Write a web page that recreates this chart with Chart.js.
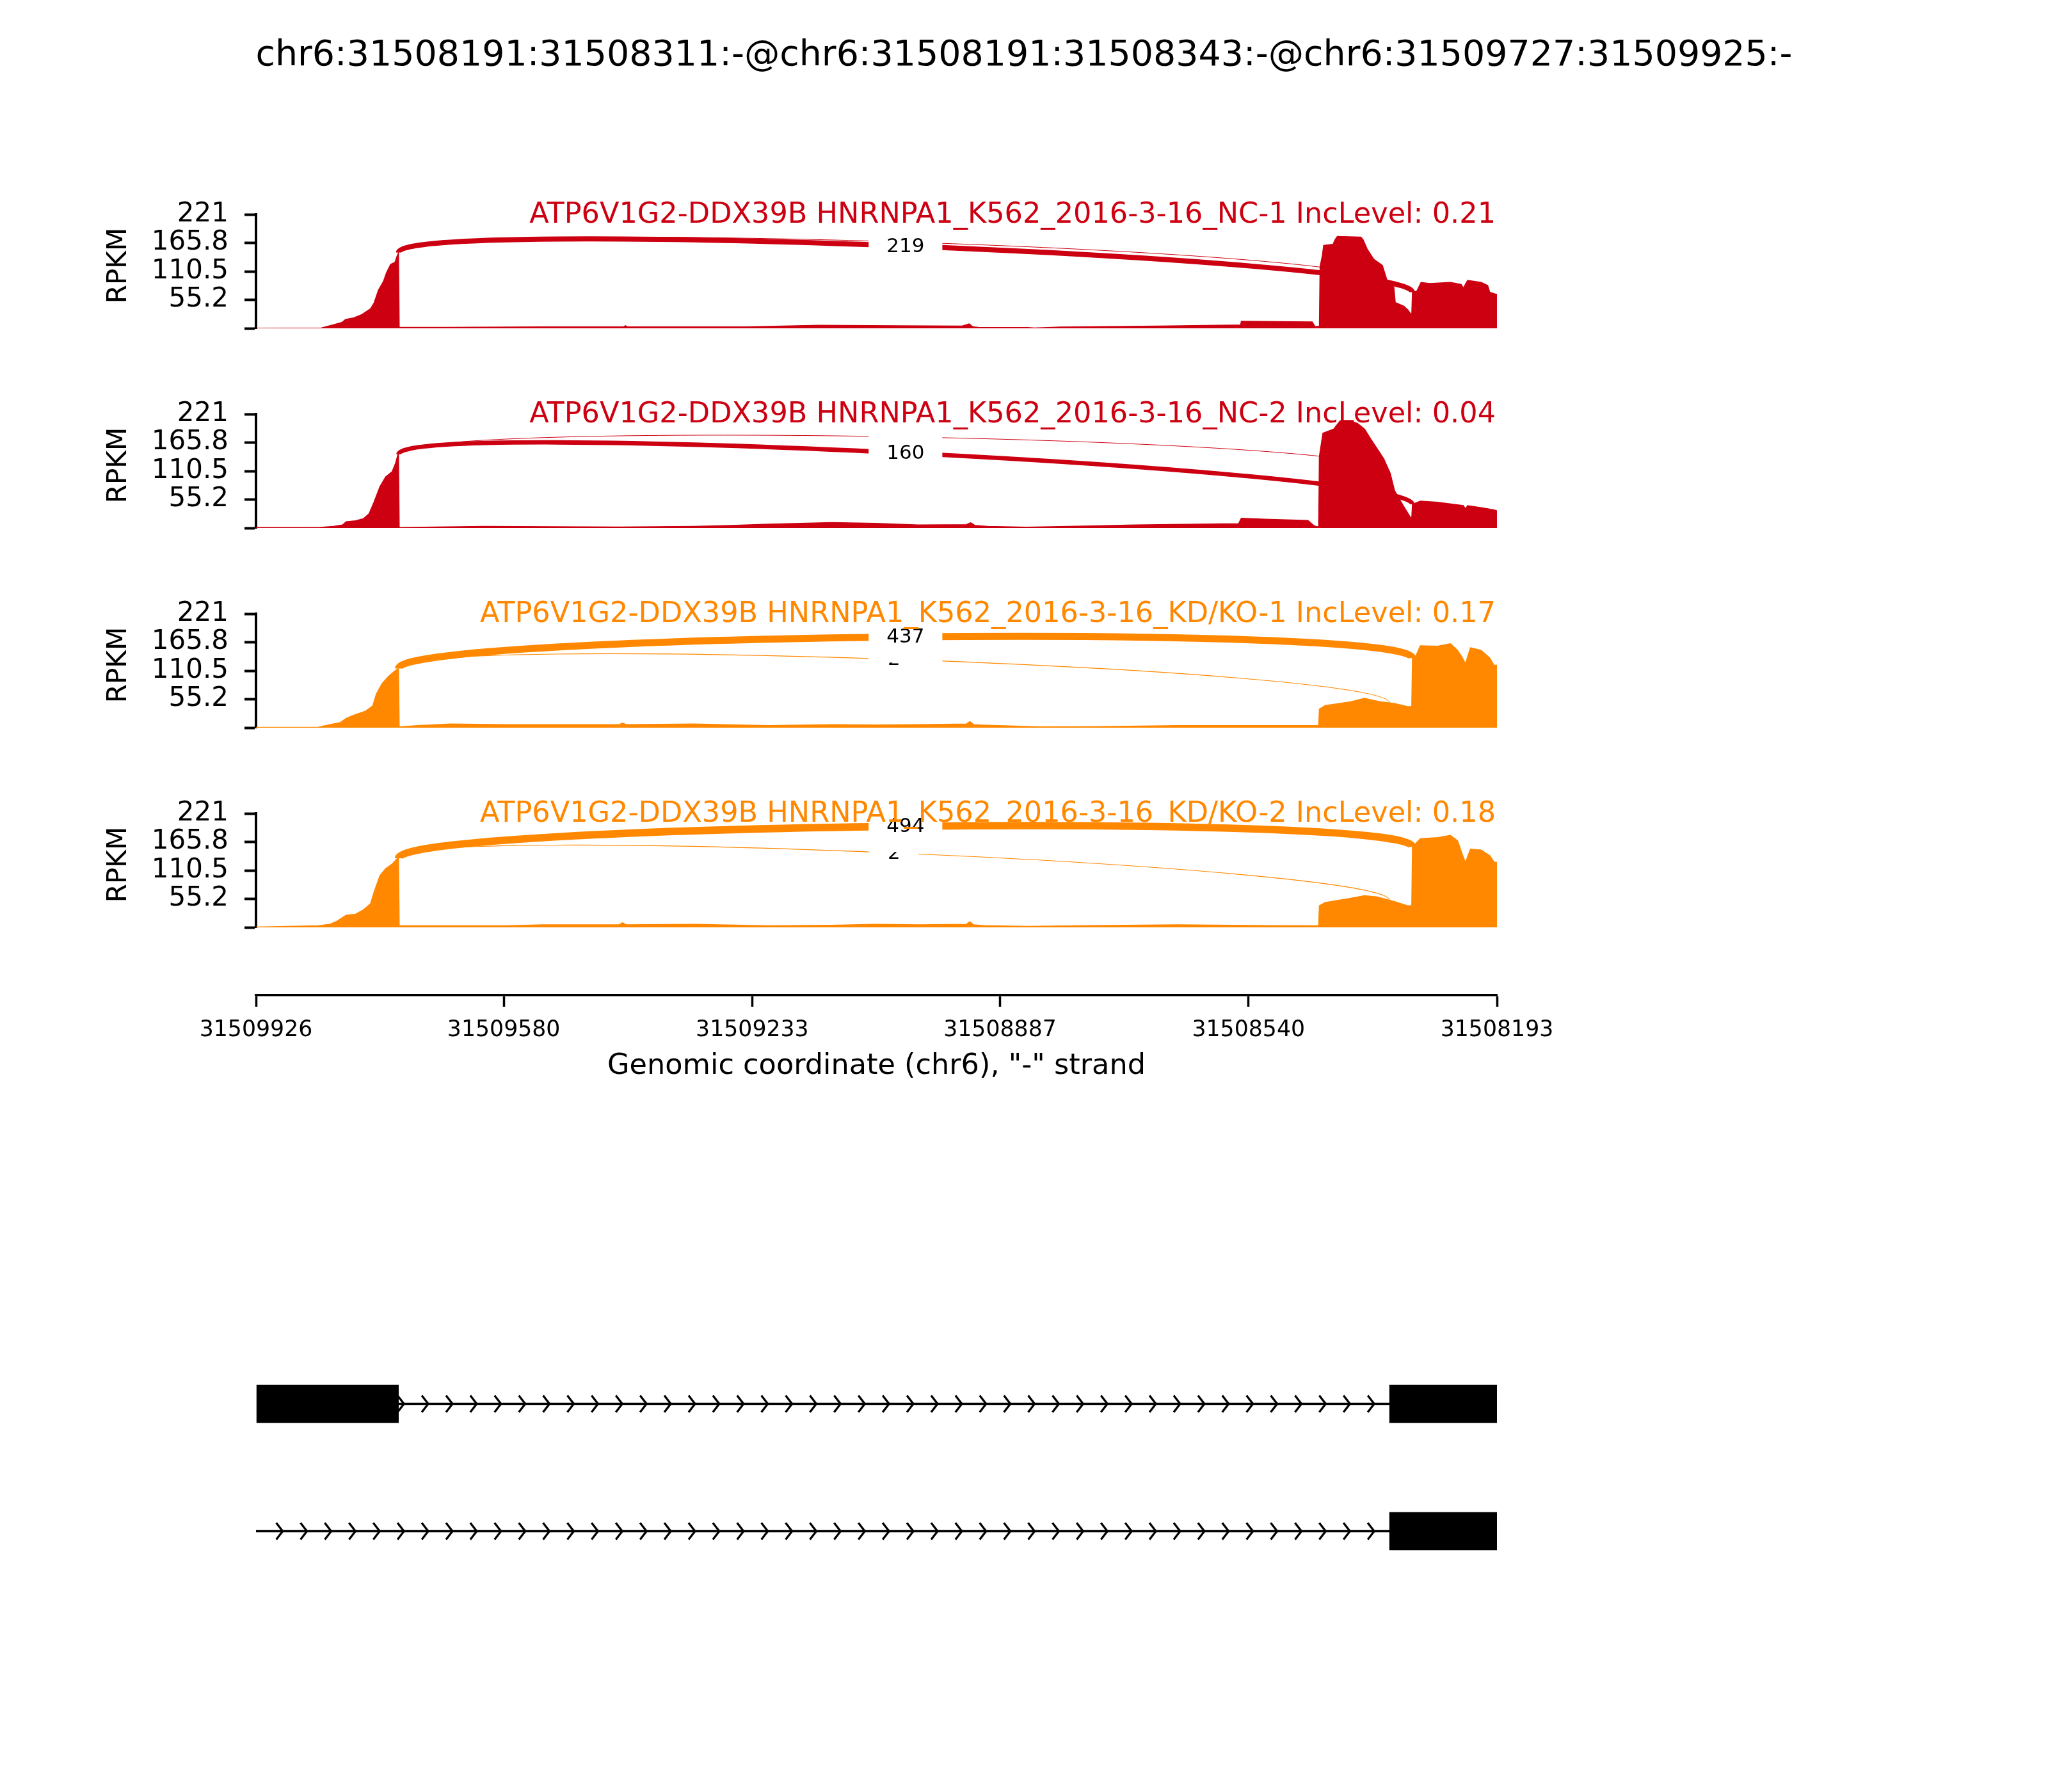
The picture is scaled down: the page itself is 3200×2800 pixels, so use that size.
<!DOCTYPE html>
<html lang="en">
<head>
<meta charset="UTF-8">
<title>Sashimi plot chr6</title>
<script src="https://cdn.jsdelivr.net/npm/chart.js"></script>
<style>
    body{margin:0;background:#fff;}
    #page{position:relative;width:3200px;height:2800px;background:#fff;font-family:"DejaVu Sans",sans-serif;}
    #page canvas{position:absolute;left:0;}
    .main-title{position:absolute;left:0;top:50px;width:3200px;text-align:center;
        font-size:55.4px;line-height:66px;color:#000;}
</style>
</head>
<body>
<div id="page">
    <div class="main-title">chr6:31508191:31508311:-@chr6:31508191:31508343:-@chr6:31509727:31509925:-</div>
    <canvas id="p0" width="3200" height="330" style="top:235px"></canvas>
    <canvas id="p1" width="3200" height="330" style="top:547px"></canvas>
    <canvas id="p2" width="3200" height="330" style="top:859px"></canvas>
    <canvas id="p3" width="3200" height="330" style="top:1171px"></canvas>
    <canvas id="axis" width="3200" height="300" style="top:1455px"></canvas>
    <canvas id="genes" width="3200" height="398" style="top:2094px"></canvas>
</div>

<script>
/* ---- data ---- */
const xMin = 31508193, xMax = 31509926;
const xTickValues = [31509926, 31509580, 31509233, 31508887, 31508540, 31508193];
const xTickLabels = ['31509926', '31509580', '31509233', '31508887', '31508540', '31508193'];
const yTickValues = [0, 55.25, 110.5, 165.75, 221];
const yTickLabels = ['', '55.2', '110.5', '165.8', '221'];

const sampleNames = [
    'ATP6V1G2-DDX39B HNRNPA1_K562_2016-3-16_NC-1 IncLevel: 0.21',
    'ATP6V1G2-DDX39B HNRNPA1_K562_2016-3-16_NC-2 IncLevel: 0.04',
    'ATP6V1G2-DDX39B HNRNPA1_K562_2016-3-16_KD/KO-1 IncLevel: 0.17',
    'ATP6V1G2-DDX39B HNRNPA1_K562_2016-3-16_KD/KO-2 IncLevel: 0.18'
];
const sampleColors = ['#CC0011', '#CC0011', '#FF8800', '#FF8800'];

// coverage: [genomic position, RPKM], left to right on the plot
const covNC1 = [[31509926,0],[31509835,0.5],[31509818,7],[31509806,11.5],[31509801,17],[31509789,20.6],[31509778,26.8],
    [31509766,38],[31509761,49.6],[31509755,74],[31509748,91],[31509744,107],[31509738,124],[31509732,128],[31509729,140],
    [31509727,147],[31509726,2],[31509658,2],[31509527,2.7],[31509413,2.7],[31509410,5],[31509407,2.7],[31509242,2.7],
    [31509140,6],[31509032,5],[31508940,4.5],[31508930,8.7],[31508925,3],[31508916,1.6],[31508848,1.6],[31508839,0.5],
    [31508803,2.5],[31508666,4.5],[31508551,6.6],[31508550,13.6],[31508451,12.4],[31508447,3.3],[31508441,4],[31508440,120],
    [31508437,140],[31508435,161],[31508422,163],[31508419,172],[31508416,178],[31508383,177],[31508380,172],[31508374,153],
    [31508365,134],[31508353,122],[31508347,95],[31508341,83],[31508337,80],[31508335,50],[31508323,43],[31508317,35],
    [31508313,27],[31508312,27],[31508311,70],[31508305,72],[31508299,89],[31508287,87],[31508258,89],[31508243,85],
    [31508240,78],[31508234,93],[31508215,89],[31508206,83],[31508203,70],[31508194,66],[31508193,66]];
const covNC2 = [[31509926,1],[31509839,1],[31509818,3],[31509805,6],[31509800,12],[31509787,14],[31509776,18],[31509768,28],
    [31509761,51],[31509753,80],[31509745,99],[31509736,109],[31509731,126],[31509728,142],[31509727,143],[31509726,1],
    [31509608,3],[31509419,2],[31509315,3],[31509262,5],[31509210,7.5],[31509122,10.4],[31509061,9],[31509001,6],
    [31508934,6.5],[31508928,10],[31508922,5],[31508904,3],[31508850,1.5],[31508759,4],[31508699,6],[31508578,8],
    [31508554,8],[31508550,19],[31508517,17],[31508457,14.5],[31508448,4],[31508442,2],[31508441,139],[31508436,184],
    [31508421,192],[31508412,208],[31508397,207],[31508388,203],[31508378,192],[31508369,172],[31508357,147],[31508351,134],
    [31508342,106],[31508336,72.5],[31508324,43.5],[31508314,21],[31508312,20],[31508311,46],[31508300,52],[31508276,50],
    [31508240,43.5],[31508237,37],[31508234,43.5],[31508215,39.4],[31508197,35],[31508193,33]];
const covKD1 = [[31509926,0.5],[31509839,1],[31509823,5.8],[31509808,10],[31509800,18],[31509787,25.6],[31509773,32],
    [31509763,42],[31509758,65],[31509750,85.5],[31509742,98],[31509734,108],[31509728,114],[31509727,115],[31509726,1.5],
    [31509700,4],[31509655,7],[31509577,6],[31509419,6],[31509414,9],[31509409,6],[31509315,7],[31509210,4],[31509122,6],
    [31509061,5.3],[31509001,6],[31508934,7],[31508929,12],[31508924,6],[31508910,5],[31508832,1.5],[31508759,2],
    [31508639,4],[31508517,4],[31508442,4],[31508441,36],[31508433,43],[31508397,50.4],[31508378,57],[31508366,53],
    [31508354,50],[31508336,47],[31508318,41],[31508312,41],[31508311,135],[31508306,140],[31508300,159],[31508276,158],
    [31508258,163],[31508248,150],[31508241,135],[31508237,124],[31508230,155],[31508215,150],[31508203,135],
    [31508197,121],[31508193,121]];
const covKD2 = [[31509926,0.5],[31509839,3],[31509823,6],[31509813,12],[31509800,23.5],[31509787,25.6],[31509776,34],
    [31509766,46],[31509761,69],[31509753,100],[31509745,114],[31509736,122.7],[31509729,133],[31509727,134],[31509726,3],
    [31509577,3],[31509525,5],[31509419,5],[31509414,9],[31509409,5],[31509315,6],[31509210,3],[31509122,4],[31509061,6],
    [31509001,5],[31508934,6],[31508929,11],[31508924,5],[31508910,3.5],[31508850,2],[31508759,3.5],[31508639,5],
    [31508517,3.5],[31508442,3],[31508441,42],[31508433,48],[31508397,56.6],[31508378,61.6],[31508360,59],[31508336,50],
    [31508318,42],[31508312,42],[31508311,156],[31508300,172],[31508276,174],[31508258,178.5],[31508248,168],
    [31508241,140],[31508237,126],[31508230,151.6],[31508215,150],[31508203,139],[31508197,126.8],[31508193,126]];

// junctions: [donor side, acceptor side, read count]
const jxnNC1 = [[31509727, 31508311, 219], [31509727, 31508343, 1]];
const jxnNC2 = [[31509727, 31508311, 160], [31509727, 31508343, 1]];
const jxnKD1 = [[31509727, 31508311, 437], [31509727, 31508343, 2]];
const jxnKD2 = [[31509727, 31508311, 494], [31509727, 31508343, 2]];

// gene model
const iso1Exons = [[31509727, 31509925], [31508311, 31508343], [31508191, 31508311]];
const iso2Exons = [[31508311, 31508343], [31508191, 31508311]];
const iso1Introns = [[31509727, 31508343]];
const iso2Introns = [[31509926, 31508343]];

/* ---- helpers ---- */
const FONT = '"DejaVu Sans", sans-serif';
const ARC_H = 68;

function covAt(cov, pos){
    for(let i=0;i<cov.length-1;i++){
        const [p1,v1]=cov[i], [p2,v2]=cov[i+1];
        if(pos<=p1 && pos>=p2){
            if(p1===p2) return v1;
            return v1+(v2-v1)*(p1-pos)/(p1-p2);
        }
    }
    return 0;
}

function sashimiPlugin(id, cov, jxns, name, color){
    return {
        id: id,
        afterDatasetsDraw(chart){
            const ctx=chart.ctx, xs=chart.scales.x, ys=chart.scales.y;
            const arcs=[...jxns].sort((a,b)=>a[2]-b[2]).map(([s,e,n])=>{
                const x1=xs.getPixelForValue(s), x2=xs.getPixelForValue(e);
                const d1=covAt(cov,s), d2=covAt(cov,e);
                const y1=ys.getPixelForValue(d1), y2=ys.getPixelForValue(d2);
                const c1=ys.getPixelForValue(d1+ARC_H), c2=ys.getPixelForValue(d2+ARC_H);
                return {x1,x2,y1,y2,c1,c2,n};
            });
            ctx.save();
            ctx.strokeStyle=color;
            ctx.lineCap='butt';
            arcs.forEach(a=>{
                ctx.lineWidth=0.5*Math.sqrt(a.n)+0.5;
                ctx.beginPath();
                ctx.moveTo(a.x1,a.y1);
                ctx.bezierCurveTo(a.x1,a.c1,a.x2,a.c2,a.x2,a.y2);
                ctx.stroke();
            });
            // junction counts in white boxes
            ctx.font='31px '+FONT;
            ctx.textAlign='center';
            ctx.textBaseline='middle';
            arcs.forEach(a=>{
                const mx=(a.x1+a.x2)/2, my=(a.y1+3*a.c1+3*a.c2+a.y2)/8;
                const txt=String(a.n);
                const w=ctx.measureText(txt).width+56, h=80;
                ctx.fillStyle='#fff';
                ctx.fillRect(mx-w/2,my-h/2,w,h);
                ctx.fillStyle='#000';
                ctx.fillText(txt,mx,my+1);
            });
            ctx.restore();
        },
        afterDraw(chart){
            const ctx=chart.ctx, ca=chart.chartArea;
            ctx.save();
            ctx.fillStyle=color;
            ctx.font='44.6px '+FONT;
            ctx.textAlign='right';
            ctx.textBaseline='alphabetic';
            ctx.fillText(name, ca.right-2, ca.top+13);
            ctx.fillStyle='#000';
            ctx.font='42px '+FONT;
            ctx.translate(186, ca.top+80);
            ctx.rotate(-Math.PI/2);
            ctx.textAlign='center';
            ctx.textBaseline='middle';
            ctx.fillText('RPKM',0,0);
            ctx.restore();
        }
    };
}

function xScale(display){
    return {
        type:'linear', min:xMin, max:xMax, reverse:true, display:display
    };
}

function makePanel(canvasId, cov, jxns, name, color){
    new Chart(document.getElementById(canvasId),{
        type:'line',
        data:{datasets:[{
            data:cov.map(([p,v])=>({x:p,y:v})),
            borderColor:color,
            backgroundColor:color,
            borderWidth:1.5,
            fill:'origin',
            pointRadius:0,
            tension:0
        }]},
        options:{
            responsive:false, animation:false, events:[],
            layout:{padding:{left:0,right:861,top:100,bottom:52}},
            plugins:{legend:{display:false},tooltip:{enabled:false}},
            scales:{
                x:xScale(false),
                y:{
                    min:0, max:221,
                    afterFit:s=>{s.width=400;},
                    afterBuildTicks:s=>{s.ticks=yTickValues.map(v=>({value:v}));},
                    border:{display:true,color:'#000',width:4},
                    grid:{drawOnChartArea:false,drawTicks:true,tickLength:18,tickWidth:4,tickColor:'#000'},
                    ticks:{
                        color:'#000', padding:25, autoSkip:false,
                        font:{family:'DejaVu Sans',size:42},
                        callback:(v,i)=>yTickLabels[i]
                    }
                }
            }
        },
        plugins:[sashimiPlugin('sashimi_'+canvasId, cov, jxns, name, color)]
    });
}

makePanel('p0', covNC1, jxnNC1, sampleNames[0], sampleColors[0]);
makePanel('p1', covNC2, jxnNC2, sampleNames[1], sampleColors[1]);
makePanel('p2', covKD1, jxnKD1, sampleNames[2], sampleColors[2]);
makePanel('p3', covKD2, jxnKD2, sampleNames[3], sampleColors[3]);

/* ---- genomic axis ---- */
new Chart(document.getElementById('axis'),{
    type:'line',
    data:{datasets:[]},
    options:{
        responsive:false, animation:false, events:[],
        layout:{padding:{left:400,right:861,top:0,bottom:0}},
        plugins:{legend:{display:false},tooltip:{enabled:false}},
        scales:{
            x:{
                type:'linear', min:xMin, max:xMax, reverse:true,
                afterFit:s=>{s.height=200;},
                afterBuildTicks:s=>{s.ticks=xTickValues.map(v=>({value:v}));},
                border:{display:true,color:'#000',width:3.5},
                grid:{drawOnChartArea:false,drawTicks:true,tickLength:18,tickWidth:3.5,tickColor:'#000'},
                ticks:{
                    color:'#000', padding:16, autoSkip:false, maxRotation:0,
                    font:{family:'DejaVu Sans',size:34.7},
                    callback:(v,i)=>xTickLabels[i]
                },
                title:{
                    display:true, text:'Genomic coordinate (chr6), "-" strand',
                    color:'#000', font:{family:'DejaVu Sans',size:44.6},
                    padding:{top:0,bottom:62}
                }
            },
            y:{display:false}
        }
    }
});

/* ---- gene model ---- */
const isoExons=[iso1Exons, iso2Exons];
const isoIntrons=[iso1Introns, iso2Introns];
const nExons=Math.max(...isoExons.map(a=>a.length));
const exonSets=[];
for(let k=0;k<nExons;k++){
    exonSets.push({
        data:isoExons.map(a=>a[k]?a[k]:null),
        backgroundColor:'#000',
        borderWidth:0,
        barThickness:59,
        grouped:false
    });
}

const intronPlugin={
    id:'introns',
    beforeDatasetsDraw(chart){
        const ctx=chart.ctx, xs=chart.scales.x, ys=chart.scales.y;
        ctx.save();
        ctx.strokeStyle='#000';
        isoIntrons.forEach((list,t)=>{
            const yc=ys.getPixelForValue(t);
            list.forEach(([a,b])=>{
                const xa=xs.getPixelForValue(a), xb=xs.getPixelForValue(b);
                ctx.lineWidth=3.5;
                ctx.beginPath();
                ctx.moveTo(xa,yc); ctx.lineTo(xb,yc);
                ctx.stroke();
                ctx.lineWidth=3.3;
                for(let tip=xb-24; tip>xa+8; tip-=37.9){
                    ctx.beginPath();
                    ctx.moveTo(tip-10,yc-13);
                    ctx.lineTo(tip,yc);
                    ctx.lineTo(tip-10,yc+13);
                    ctx.stroke();
                }
            });
        });
        ctx.restore();
    }
};

new Chart(document.getElementById('genes'),{
    type:'bar',
    data:{labels:['iso1','iso2'],datasets:exonSets},
    options:{
        indexAxis:'y',
        responsive:false, animation:false, events:[],
        layout:{padding:{left:400,right:861,top:0,bottom:0}},
        plugins:{legend:{display:false},tooltip:{enabled:false}},
        scales:{
            x:xScale(false),
            y:{display:false}
        }
    },
    plugins:[intronPlugin]
});
</script>
</body>
</html>
